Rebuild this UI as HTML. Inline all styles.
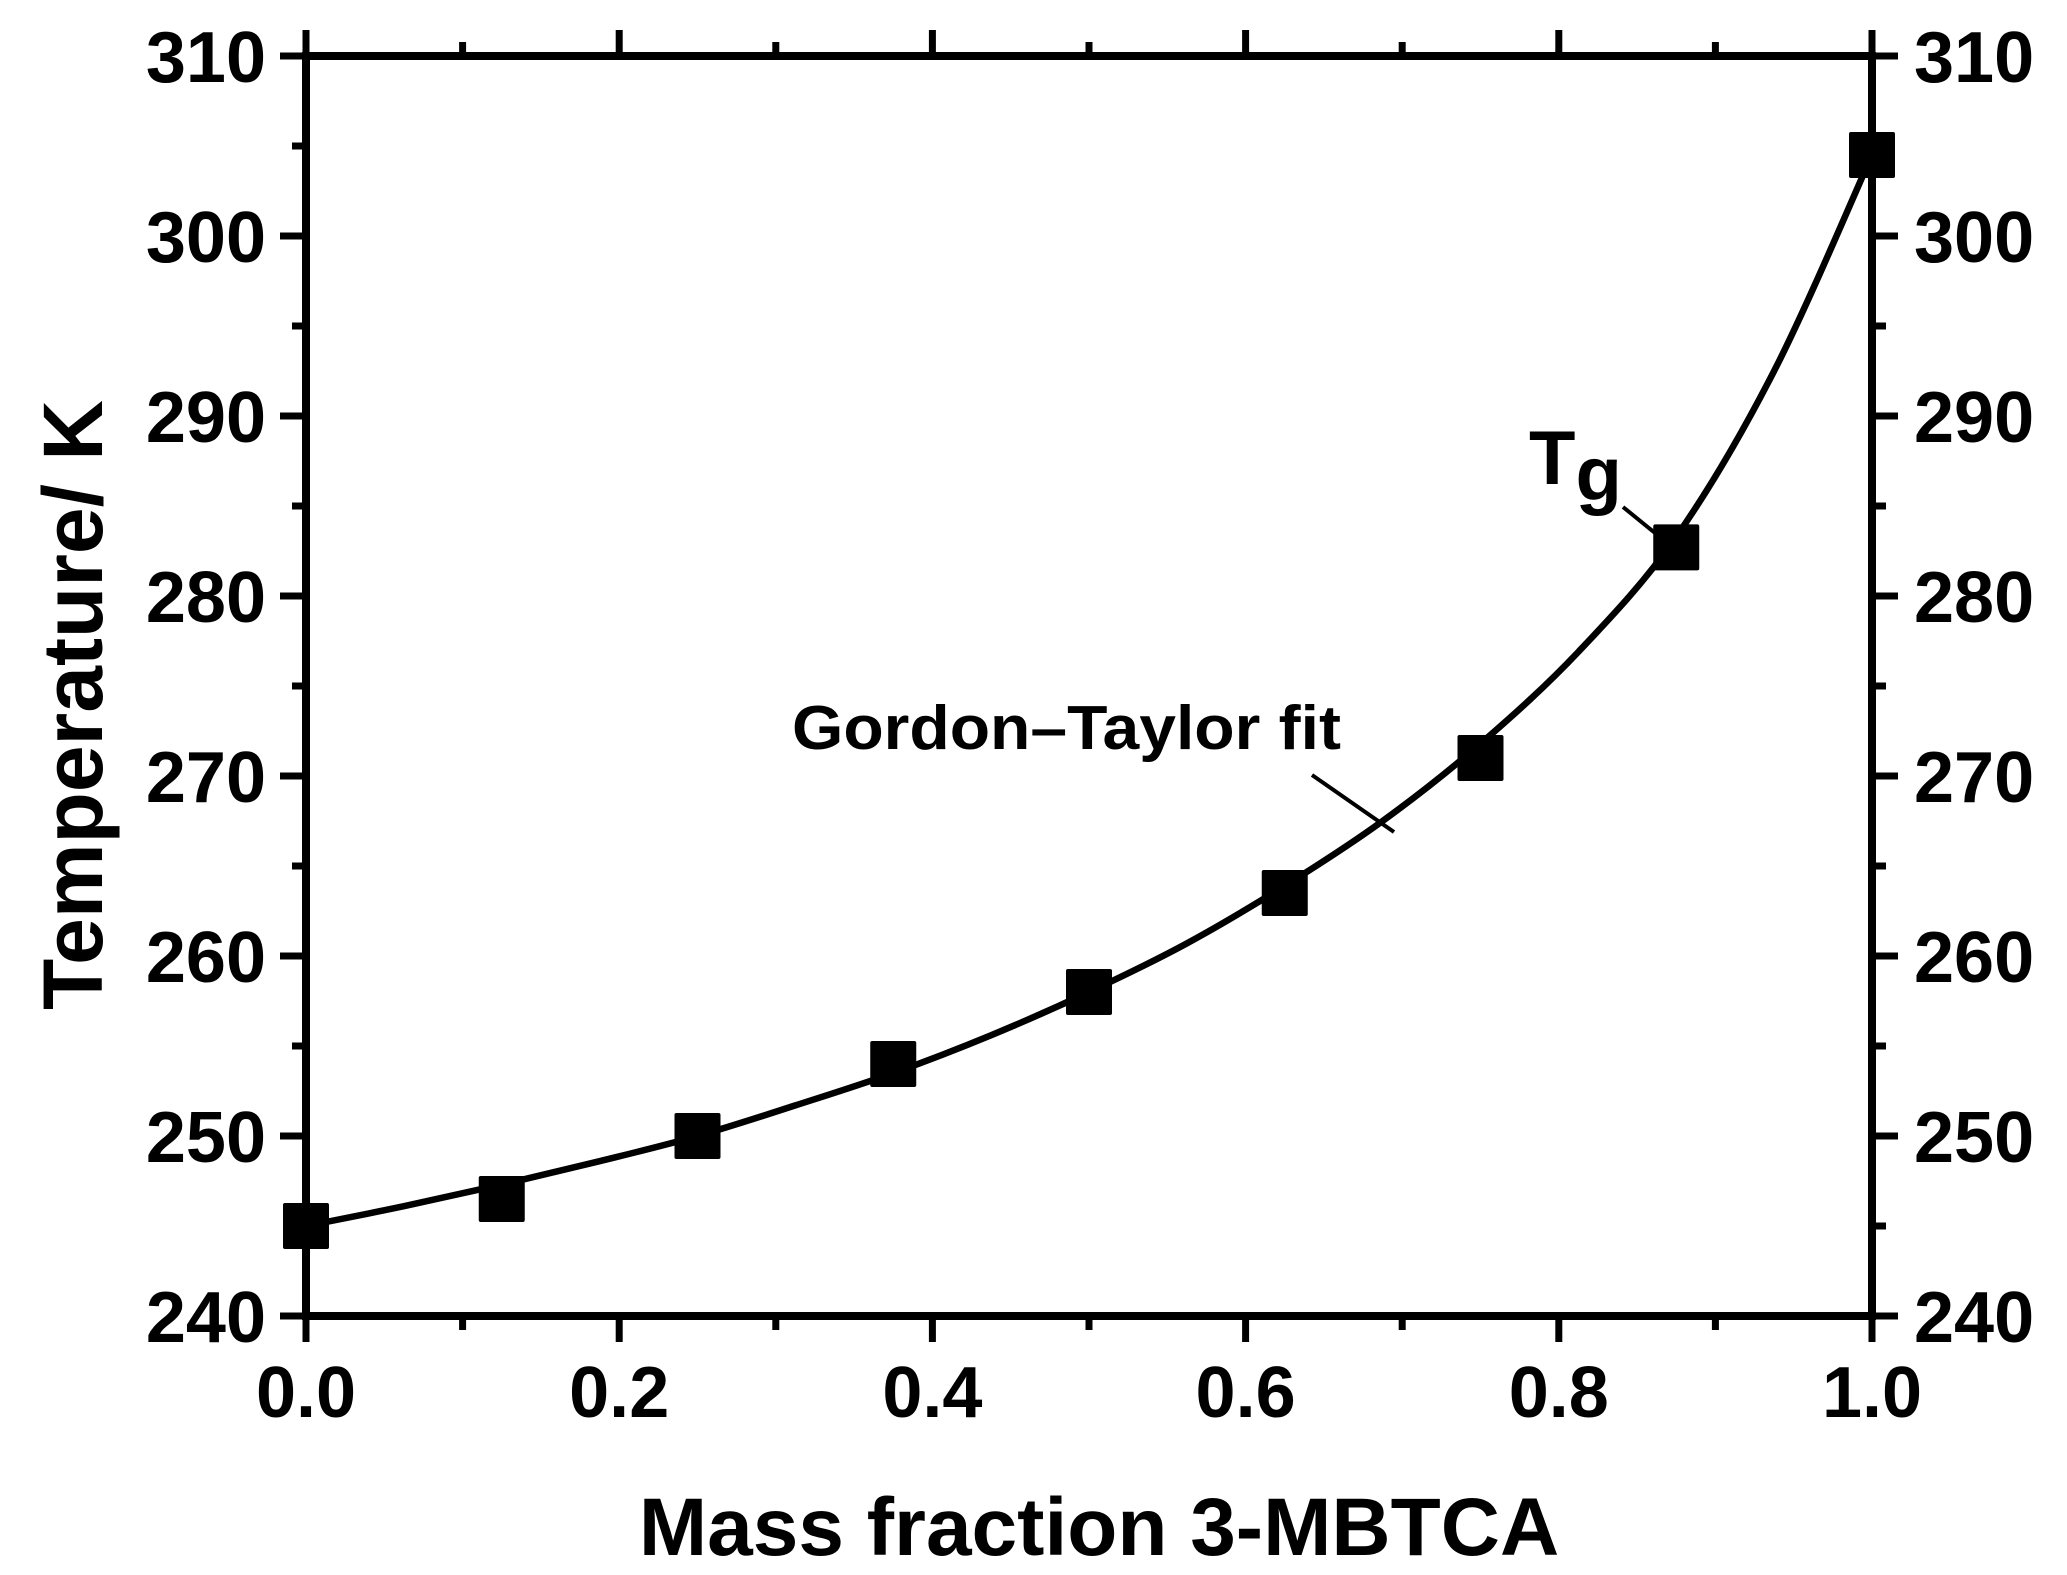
<!DOCTYPE html>
<html><head><meta charset="utf-8"><style>
html,body{margin:0;padding:0;background:#fff;}
svg{display:block;font-family:"Liberation Sans",Arial,sans-serif;font-weight:bold;}
</style></head><body>
<svg id="chart" width="2067" height="1575" viewBox="0 0 2067 1575">
<g id="axes"></g>
<g id="series"></g>
<text x="73" y="705" transform="rotate(-90 73 705)" text-anchor="middle" dominant-baseline="central" font-size="84">Temperature/ K</text>
<text x="1099" y="1555" text-anchor="middle" font-size="82">Mass fraction 3-MBTCA</text>
<text x="792" y="749" font-size="62" textLength="549" lengthAdjust="spacingAndGlyphs">Gordon–Taylor fit</text>
<line x1="1312" y1="775" x2="1394" y2="832" stroke="#000" stroke-width="4"/>
<text x="1529" y="484" font-size="76">T<tspan dy="16">g</tspan></text>
<line x1="1623" y1="507" x2="1660" y2="537" stroke="#000" stroke-width="4"/>
</svg>
<script>
const massFraction=[0,0.125,0.25,0.375,0.5,0.625,0.75,0.875,1.0];
const tgValues=[245,246.5,250,254,258,263.5,271,282.7,304.5];
const fitX=[0,0.0625,0.125,0.1875,0.25,0.3125,0.375,0.4375,0.5,0.5625,0.625,0.6875,0.75,0.8125,0.875,0.9375,1.0];
const fitY=[245,246.1,247.3,248.6,250.0,251.7,253.5,255.6,258.0,260.7,263.9,267.5,271.8,276.9,283.3,292.5,304.5];
const xTicks=[0,0.2,0.4,0.6,0.8,1.0];
const xTickLabels=["0.0","0.2","0.4","0.6","0.8","1.0"];
const yTicks=[240,250,260,270,280,290,300,310];
const yTickLabels=["240","250","260","270","280","290","300","310"];

const X0=306,X1=1872,Y0=1316,Y1=56;
const sx=v=>X0+(v-0)/(1-0)*(X1-X0);
const sy=v=>Y0-(v-240)/(310-240)*(Y0-Y1);
const NS="http://www.w3.org/2000/svg";
const axes=document.getElementById('axes'),series=document.getElementById('series');
function mk(tag,attrs,parent){const e=document.createElementNS(NS,tag);for(const k in attrs)e.setAttribute(k,attrs[k]);parent.appendChild(e);return e;}

const frame=mk('rect',{x:X0,y:Y1,width:X1-X0,height:Y0-Y1,fill:'none',stroke:'#000','stroke-width':8},axes);



for(let i=0;i<xTicks.length;i++){
  const x=sx(xTicks[i]);
  const t=mk('line',{x1:x,y1:Y0,x2:x,y2:Y0+26,stroke:'#000','stroke-width':7},axes);
  
  
  const tt=mk('line',{x1:x,y1:Y1,x2:x,y2:Y1-26,stroke:'#000','stroke-width':7},axes);
  
  
  const l=mk('text',{x:x,y:1417,'text-anchor':'middle','font-size':72},axes);
  l.textContent=xTickLabels[i];
  
  
  if(i<xTicks.length-1){
    const xm=sx((xTicks[i]+xTicks[i+1])/2);
    const m=mk('line',{x1:xm,y1:Y0,x2:xm,y2:Y0+14,stroke:'#000','stroke-width':7},axes);
    
    
    const mt=mk('line',{x1:xm,y1:Y1,x2:xm,y2:Y1-14,stroke:'#000','stroke-width':7},axes);
    
    
  }
}
for(let i=0;i<yTicks.length;i++){
  const y=sy(yTicks[i]);
  const t=mk('line',{x1:X0-26,y1:y,x2:X0,y2:y,stroke:'#000','stroke-width':7},axes);
  
  
  const tr=mk('line',{x1:X1,y1:y,x2:X1+26,y2:y,stroke:'#000','stroke-width':7},axes);
  
  
  const l=mk('text',{x:266,y:y+26,'text-anchor':'end','font-size':72},axes);
  l.textContent=yTickLabels[i];
  
  
  const r=mk('text',{x:1914,y:y+26,'text-anchor':'start','font-size':72},axes);
  r.textContent=yTickLabels[i];
  
  
  if(i<yTicks.length-1){
    const ym=sy((yTicks[i]+yTicks[i+1])/2);
    const m=mk('line',{x1:X0-14,y1:ym,x2:X0,y2:ym,stroke:'#000','stroke-width':7},axes);
    
    
    const mr=mk('line',{x1:X1,y1:ym,x2:X1+14,y2:ym,stroke:'#000','stroke-width':7},axes);
    
    
  }
}

// smooth Catmull-Rom spline through fit samples
const P=fitX.map((v,i)=>[sx(v),sy(fitY[i])]);
let d='M'+P[0][0].toFixed(1)+' '+P[0][1].toFixed(1);
for(let i=0;i<P.length-1;i++){
  const p0=P[Math.max(i-1,0)],p1=P[i],p2=P[i+1],p3=P[Math.min(i+2,P.length-1)];
  const c1=[p1[0]+(p2[0]-p0[0])/6,p1[1]+(p2[1]-p0[1])/6];
  const c2=[p2[0]-(p3[0]-p1[0])/6,p2[1]-(p3[1]-p1[1])/6];
  d+='C'+c1[0].toFixed(1)+' '+c1[1].toFixed(1)+' '+c2[0].toFixed(1)+' '+c2[1].toFixed(1)+' '+p2[0].toFixed(1)+' '+p2[1].toFixed(1);
}
const fit=mk('path',{d:d,fill:'none',stroke:'#000','stroke-width':6.5,'stroke-linejoin':'round'},series);



for(let i=0;i<massFraction.length;i++){
  const s=46;
  const r=mk('rect',{x:sx(massFraction[i])-s/2,y:sy(tgValues[i])-s/2,width:s,height:s,rx:2,fill:'#000'},series);
  
  
}
</script>
</body></html>
